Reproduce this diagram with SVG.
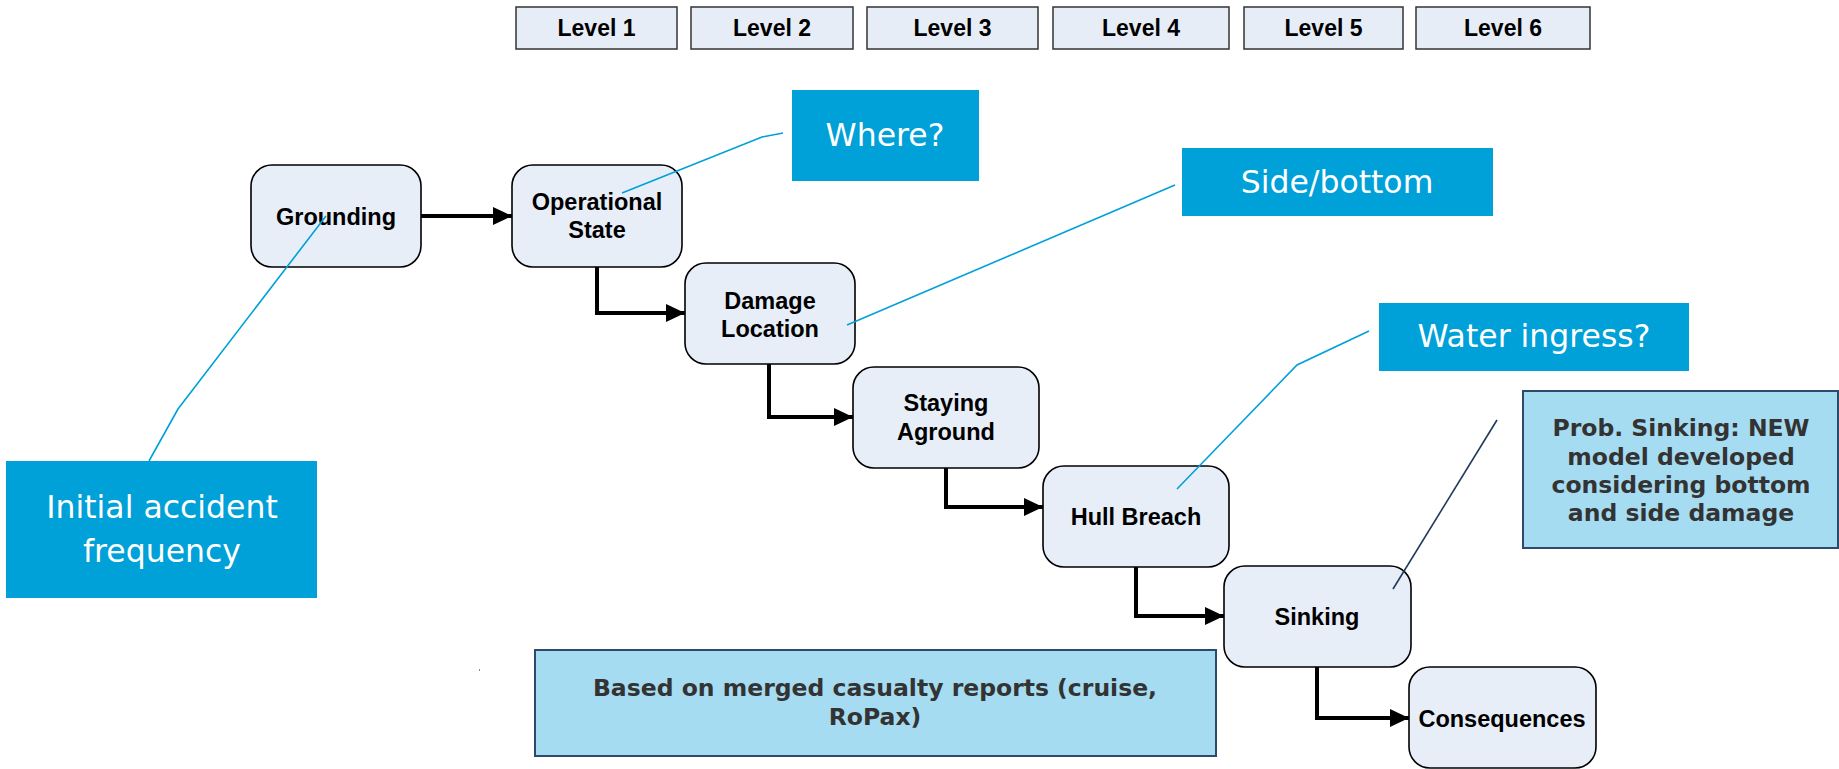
<svg xmlns="http://www.w3.org/2000/svg" width="1839" height="769" viewBox="0 0 1839 769">
  <defs>
    <marker id="arrow" markerUnits="userSpaceOnUse" markerWidth="20" markerHeight="19" refX="19" refY="9" orient="auto">
      <path d="M0,0 L19,9 L0,18 z" fill="#000"/>
    </marker>
    <style>
      .level rect { fill: #E6EDF7; stroke: #333; stroke-width: 1.5; }
      .level text, .node text { font-family: "Liberation Sans", Arial, sans-serif; font-weight: bold; fill: #000; text-anchor: middle; }
      .level text { font-size: 23px; }
      .node rect { fill: #E7EEF8; stroke: #000; stroke-width: 1.6; }
      .node text { font-size: 23.5px; }
      .flow { fill: none; stroke: #000; stroke-width: 4; marker-end: url(#arrow); }
      .callout rect { fill: #00A0D8; }
      .callout text { font-family: "DejaVu Sans", Verdana, sans-serif; fill: #fff; text-anchor: middle; font-size: 31.5px; }
      .lead { fill: none; stroke: #00A0D8; stroke-width: 1.6; }
      .lead-dark { fill: none; stroke: #1F3A5A; stroke-width: 1.6; }
      .note rect { fill: #A6DCF2; stroke: #2E4A6B; stroke-width: 2; }
      .note text { font-family: "DejaVu Sans", Verdana, sans-serif; font-weight: bold; fill: #333; text-anchor: middle; font-size: 23.5px; }
    </style>
  </defs>

  <!-- Level header -->
  <g id="level-1" class="level"><rect x="516" y="7" width="161" height="42"/><text x="596.5" y="36">Level 1</text></g>
  <g id="level-2" class="level"><rect x="691" y="7" width="162" height="42"/><text x="772" y="36">Level 2</text></g>
  <g id="level-3" class="level"><rect x="867" y="7" width="171" height="42"/><text x="952.5" y="36">Level 3</text></g>
  <g id="level-4" class="level"><rect x="1053" y="7" width="176" height="42"/><text x="1141" y="36">Level 4</text></g>
  <g id="level-5" class="level"><rect x="1244" y="7" width="159" height="42"/><text x="1323.5" y="36">Level 5</text></g>
  <g id="level-6" class="level"><rect x="1416" y="7" width="174" height="42"/><text x="1503" y="36">Level 6</text></g>

  <!-- Event sequence nodes -->
  <g id="grounding" class="node">
    <rect x="251" y="165" width="170" height="102" rx="21"/>
    <text x="336" y="224.5">Grounding</text>
  </g>
  <g id="operational-state" class="node">
    <rect x="512" y="165" width="170" height="102" rx="21"/>
    <text x="597" y="210">Operational</text>
    <text x="597" y="238">State</text>
  </g>
  <g id="damage-location" class="node">
    <rect x="685" y="263" width="170" height="101" rx="21"/>
    <text x="770" y="308.5">Damage</text>
    <text x="770" y="336.5">Location</text>
  </g>
  <g id="staying-aground" class="node">
    <rect x="853" y="367" width="186" height="101" rx="21"/>
    <text x="946" y="411">Staying</text>
    <text x="946" y="440">Aground</text>
  </g>
  <g id="hull-breach" class="node">
    <rect x="1043" y="466" width="186" height="101" rx="21"/>
    <text x="1136" y="524.5">Hull Breach</text>
  </g>
  <g id="sinking" class="node">
    <rect x="1224" y="566" width="187" height="101" rx="21"/>
    <text x="1317" y="624.5">Sinking</text>
  </g>
  <g id="consequences" class="node">
    <rect x="1409" y="667" width="187" height="101" rx="21"/>
    <text x="1502" y="726.5">Consequences</text>
  </g>

  <!-- Annotation boxes -->
  <g id="initial-frequency" class="callout">
    <rect x="6" y="461" width="311" height="137"/>
    <text x="162" y="518" font-size="32">Initial accident</text>
    <text x="162" y="562" font-size="32">frequency</text>
  </g>
  <g id="where" class="callout">
    <rect x="792" y="90" width="187" height="91"/>
    <text x="885" y="146">Where?</text>
  </g>
  <g id="side-bottom" class="callout">
    <rect x="1182" y="148" width="311" height="68"/>
    <text x="1337" y="193">Side/bottom</text>
  </g>
  <g id="water-ingress" class="callout">
    <rect x="1379" y="303" width="310" height="68"/>
    <text x="1534" y="347">Water ingress?</text>
  </g>
  <g id="prob-sinking" class="note">
    <rect x="1523" y="391" width="315" height="157"/>
    <text x="1681" y="436">Prob. Sinking: NEW</text>
    <text x="1681" y="465">model developed</text>
    <text x="1681" y="493">considering bottom</text>
    <text x="1681" y="521">and side damage</text>
  </g>
  <g id="casualty-reports" class="note">
    <rect x="535" y="650" width="681" height="106"/>
    <text x="875" y="696">Based on merged casualty reports (cruise,</text>
    <text x="875" y="725">RoPax)</text>
  </g>

  <!-- Connectors -->
  <g id="connectors">
    <path class="flow" d="M421,216 L512,216"/>
    <path class="flow" d="M597,267 L597,313 L685,313"/>
    <path class="flow" d="M769,364 L769,417 L853,417"/>
    <path class="flow" d="M946,468 L946,507 L1043,507"/>
    <path class="flow" d="M1136,567 L1136,616 L1224,616"/>
    <path class="flow" d="M1317,667 L1317,718 L1409,718"/>

    <polyline class="lead" points="149,461 178,409 326,216"/>
    <polyline class="lead" points="622,193 762,137 783,133"/>
    <polyline class="lead" points="847,325 1175,185"/>
    <polyline class="lead" points="1177,489 1297,365 1369,331"/>
    <polyline class="lead-dark" points="1497,420 1393,589"/>
  </g>

  <rect x="479" y="669" width="1" height="2" fill="#888"/>
</svg>
